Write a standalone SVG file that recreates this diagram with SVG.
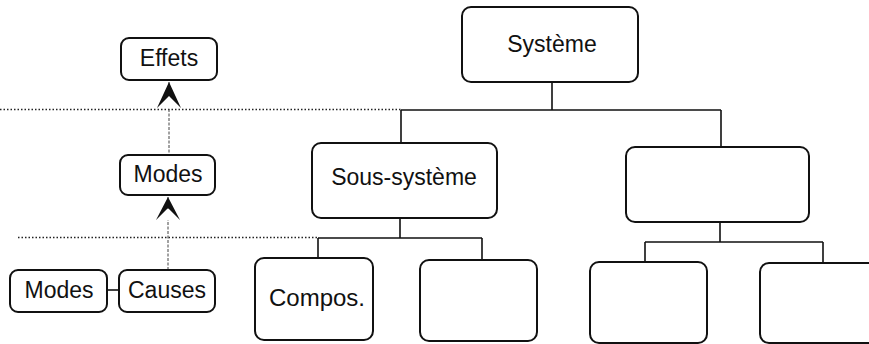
<svg xmlns="http://www.w3.org/2000/svg" width="869" height="344" viewBox="0 0 869 344">
<style>
.box{fill:#fff;stroke:#111;stroke-width:2}
.lbl{font-family:"Liberation Sans",Arial,sans-serif;font-size:23px;fill:#111;text-anchor:middle}
.con{fill:none;stroke:#111;stroke-width:1.6}
.dot{fill:none;stroke:#222;stroke-width:1.5;stroke-dasharray:1.5 2}
.flow{fill:none;stroke:#444;stroke-width:1;stroke-dasharray:3 1.5}
.head{fill:#111;stroke:none}
</style>
<rect width="869" height="344" fill="#fff"/>
<g id="levels">
<path class="dot" d="M0,109.5 H401"/>
<path class="dot" d="M18,237.5 H318"/>
</g>
<g id="connectors">
<path class="con" d="M552,82 V110 M401,110 H721 M401,110 V143 M721,110 V147"/>
<path class="con" d="M400,218 V238 M318,238 H482 M318,238 V258 M482,238 V260"/>
<path class="con" d="M720,222 V242 M645,242 H823 M645,242 V262 M823,242 V263"/>
<path class="con" d="M107,290 H119"/>
<path class="flow" d="M169,94 V80 M169,157 V108"/>
<path class="flow" d="M168,209 V195 M168,270 V220"/>
<path class="head" d="M169,82 L157,108 L169,96 L181,108 Z"/>
<path class="head" d="M168,197 L156,220 L168,208 L180,220 Z"/>
</g>
<g id="systeme">
<rect class="box" x="462" y="7" width="176" height="75" rx="9"/>
<text class="lbl" x="552" y="52">Système</text>
</g>
<g id="sous-systeme">
<rect class="box" x="312" y="143" width="185" height="75" rx="9"/>
<text class="lbl" x="404" y="185">Sous-système</text>
</g>
<g id="sous-systeme-2">
<rect class="box" x="626" y="147" width="183" height="75" rx="9"/>
</g>
<g id="compos">
<rect class="box" x="255" y="258" width="118" height="82" rx="9"/>
<text class="lbl" x="317" y="306" style="font-size:24px">Compos.</text>
</g>
<g id="compos-2">
<rect class="box" x="420" y="260" width="117" height="81" rx="9"/>
</g>
<g id="compos-3">
<rect class="box" x="590" y="262" width="117" height="81" rx="9"/>
</g>
<g id="compos-4">
<path class="box" d="M869,263 H769 A9,9 0 0 0 760,272 V334 A9,9 0 0 0 769,343 H869" style="fill:#fff"/>
</g>
<g id="effets">
<rect class="box" x="121" y="38" width="96" height="42" rx="8"/>
<text class="lbl" x="169" y="66">Effets</text>
</g>
<g id="modes-mid">
<rect class="box" x="120" y="155" width="95" height="40" rx="8"/>
<text class="lbl" x="168" y="182">Modes</text>
</g>
<g id="modes-low">
<rect class="box" x="10" y="270" width="97" height="42" rx="8"/>
<text class="lbl" x="59" y="298">Modes</text>
</g>
<g id="causes">
<rect class="box" x="119" y="270" width="96" height="42" rx="8"/>
<text class="lbl" x="167" y="298">Causes</text>
</g>
</svg>
